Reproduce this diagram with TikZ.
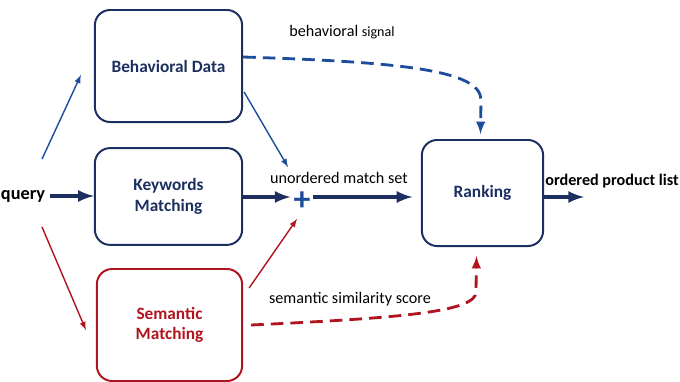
\documentclass[tikz,border=0pt]{standalone}
\usepackage{fontspec}
\setmainfont{Carlito}

\definecolor{navy}{HTML}{1C2F60}
\definecolor{linkblue}{HTML}{1E4C9C}
\definecolor{darkred}{HTML}{B0141E}

\begin{document}
\begin{tikzpicture}[x=0.025cm,y=-0.025cm,
    box/.style={draw=navy,line width=1.4pt,rounded corners=0.38cm,
      align=center,font=\fontsize{12.3}{14.5}\selectfont\bfseries,text=navy},
    lbl/.style={font=\fontsize{11.5}{13}\selectfont,text=black,inner sep=1pt},
    thin/.style={->,>=latex,draw=linkblue,line width=1pt},
    thick/.style={->,>=latex,draw=navy,line width=2.8pt},
    sig/.style={->,>=latex,dash pattern=on 9pt off 5pt,line width=2pt}]
  \useasboundingbox (0,0) rectangle (680,382);
      \draw
        (168.5,66) node[box,minimum width=3.68cm,minimum height=2.8cm] (bd){Behavioral Data}
        (168.5,196.5) node[box,minimum width=3.68cm,minimum height=2.42cm] (kw){Keywords\\Matching}
        (169.5,325) node[box,draw=darkred,text=darkred,minimum width=3.63cm,minimum height=2.8cm] (sm){Semantic\\Matching}
        (482.5,193) node[box,minimum width=3.03cm,minimum height=2.65cm] (rk){Ranking}
        (23,196) node[font=\fontsize{13}{15}\selectfont\bfseries] (q){query}
        (302,201) node[text=linkblue,inner sep=0pt,font=\fontsize{24}{24}\selectfont\bfseries] (plus){+};
      \coordinate (out) at (584,197);
      \begin{scope}[lbl]
        \node (bs) at (342,32) {behavioral {\fontsize{10}{12}\selectfont signal}};
        \node (ms) at (339,178) {unordered match set};
        \node (ol) at (612,181) {\bfseries ordered product list};
        \node (ss) at (350,299) {semantic similarity score};
      \end{scope}
      % from the query
      \draw[thin] ([shift={(19,-26)}]q.north) to ([shift={(-13,9)}]bd.west);
      \draw[thick] (q.east) to (q.east -| kw.west);
      \draw[thin,draw=darkred] ([shift={(19,20)}]q.south) to ([shift={(-10,5)}]sm.west);
      % into the match set
      \draw[thin] ([shift={(1,26)}]bd.east) to ([shift={(-14,-34)}]plus.center);
      \draw[thick,shorten >=2pt] (out -| kw.east) to (out -| plus.west);
      \draw[thin,draw=darkred] ([shift={(6,-37)}]sm.east) to ([shift={(-5,18)}]plus.center);
      \draw[thick,shorten <=2pt,shorten >=6pt] (out -| plus.east) to (out -| rk.west);
      \draw[thick] (out -| rk.east) to (out);
      % signals
      \draw[sig,draw=linkblue] ([yshift=6.4pt]bd.east) .. controls (400,62) and (481,70) .. (481,100) to ([shift={(-2,-5)}]rk.north);
      \draw[sig,draw=darkred] ([shift={(8,0)}]sm.east) .. controls (400,318) and (476,312) .. (476,292) to ([shift={(-6,9)}]rk.south);
    \end{tikzpicture}
\end{document}
